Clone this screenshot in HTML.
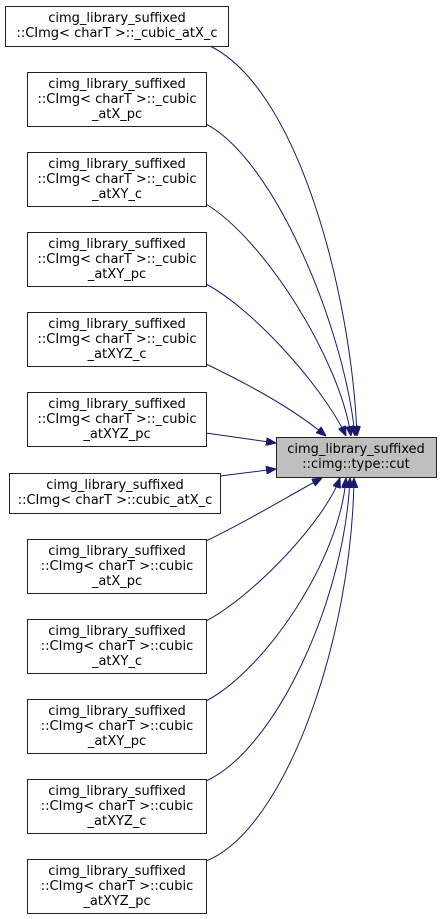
<!DOCTYPE html>
<html><head><meta charset="utf-8"><style>body{margin:0;background:#fff}svg{display:block}</style></head><body>
<svg width="443" height="919" viewBox="0 0 443 919" xmlns="http://www.w3.org/2000/svg" font-family="DejaVu Sans, Liberation Sans, sans-serif" font-size="13">
<defs><marker id="a" markerWidth="10" markerHeight="8" refX="10" refY="4" orient="auto" markerUnits="userSpaceOnUse"><path d="M0,0 L10,4 L0,8 z" fill="#191970" stroke="#191970"/></marker></defs>
<g fill="none" stroke="#191970" stroke-width="1" marker-end="url(#a)">
<path d="M210,46 C300,90 352,300 357,436"/>
<path d="M206,124 C275,160 345,330 355,436"/>
<path d="M206,204 C265,240 340,360 351,436"/>
<path d="M206,284 C255,310 325,390 346,436"/>
<path d="M206,364 C250,385 295,410 326,436"/>
<path d="M206,433 C235,437 255,440 276,443"/>
<path d="M220,476 C245,473 260,471 276,469"/>
<path d="M206,541 C250,520 290,495 322,478"/>
<path d="M206,621 C255,595 325,520 340,478"/>
<path d="M206,701 C265,670 340,560 346,478"/>
<path d="M206,781 C275,750 345,600 350,478"/>
<path d="M206,861 C285,830 352,640 354,478"/>
</g>
<g stroke="#222" fill="#fff">
<rect x="5.5" y="6.5" width="223" height="40"/>
<rect x="27.5" y="72.5" width="179" height="54"/>
<rect x="27.5" y="152.5" width="179" height="54"/>
<rect x="27.5" y="232.5" width="179" height="54"/>
<rect x="27.5" y="312.5" width="179" height="54"/>
<rect x="27.5" y="392.5" width="179" height="54"/>
<rect x="9.5" y="473.5" width="211" height="40"/>
<rect x="27.5" y="539.5" width="179" height="54"/>
<rect x="27.5" y="619.5" width="179" height="54"/>
<rect x="27.5" y="699.5" width="179" height="54"/>
<rect x="27.5" y="779.5" width="179" height="54"/>
<rect x="27.5" y="859.5" width="179" height="54"/>
<rect x="276.5" y="437.5" width="160" height="40" fill="#bfbfbf"/>
</g>
<g fill="#000" text-anchor="middle">
<text x="117" y="22">cimg_library_suffixed</text><text x="117" y="37">::CImg&lt; charT &gt;::_cubic_atX_c</text>
<text x="117" y="88">cimg_library_suffixed</text><text x="117" y="103">::CImg&lt; charT &gt;::_cubic</text><text x="117" y="118">_atX_pc</text>
<text x="117" y="168">cimg_library_suffixed</text><text x="117" y="183">::CImg&lt; charT &gt;::_cubic</text><text x="117" y="198">_atXY_c</text>
<text x="117" y="248">cimg_library_suffixed</text><text x="117" y="263">::CImg&lt; charT &gt;::_cubic</text><text x="117" y="278">_atXY_pc</text>
<text x="117" y="328">cimg_library_suffixed</text><text x="117" y="343">::CImg&lt; charT &gt;::_cubic</text><text x="117" y="358">_atXYZ_c</text>
<text x="117" y="408">cimg_library_suffixed</text><text x="117" y="423">::CImg&lt; charT &gt;::_cubic</text><text x="117" y="438">_atXYZ_pc</text>
<text x="115" y="489">cimg_library_suffixed</text><text x="115" y="504">::CImg&lt; charT &gt;::cubic_atX_c</text>
<text x="117" y="555">cimg_library_suffixed</text><text x="117" y="570">::CImg&lt; charT &gt;::cubic</text><text x="117" y="585">_atX_pc</text>
<text x="117" y="635">cimg_library_suffixed</text><text x="117" y="650">::CImg&lt; charT &gt;::cubic</text><text x="117" y="665">_atXY_c</text>
<text x="117" y="715">cimg_library_suffixed</text><text x="117" y="730">::CImg&lt; charT &gt;::cubic</text><text x="117" y="745">_atXY_pc</text>
<text x="117" y="795">cimg_library_suffixed</text><text x="117" y="810">::CImg&lt; charT &gt;::cubic</text><text x="117" y="825">_atXYZ_c</text>
<text x="117" y="875">cimg_library_suffixed</text><text x="117" y="890">::CImg&lt; charT &gt;::cubic</text><text x="117" y="905">_atXYZ_pc</text>
<text x="356" y="453">cimg_library_suffixed</text><text x="356" y="468">::cimg::type::cut</text>
</g>
</svg>
</body></html>
